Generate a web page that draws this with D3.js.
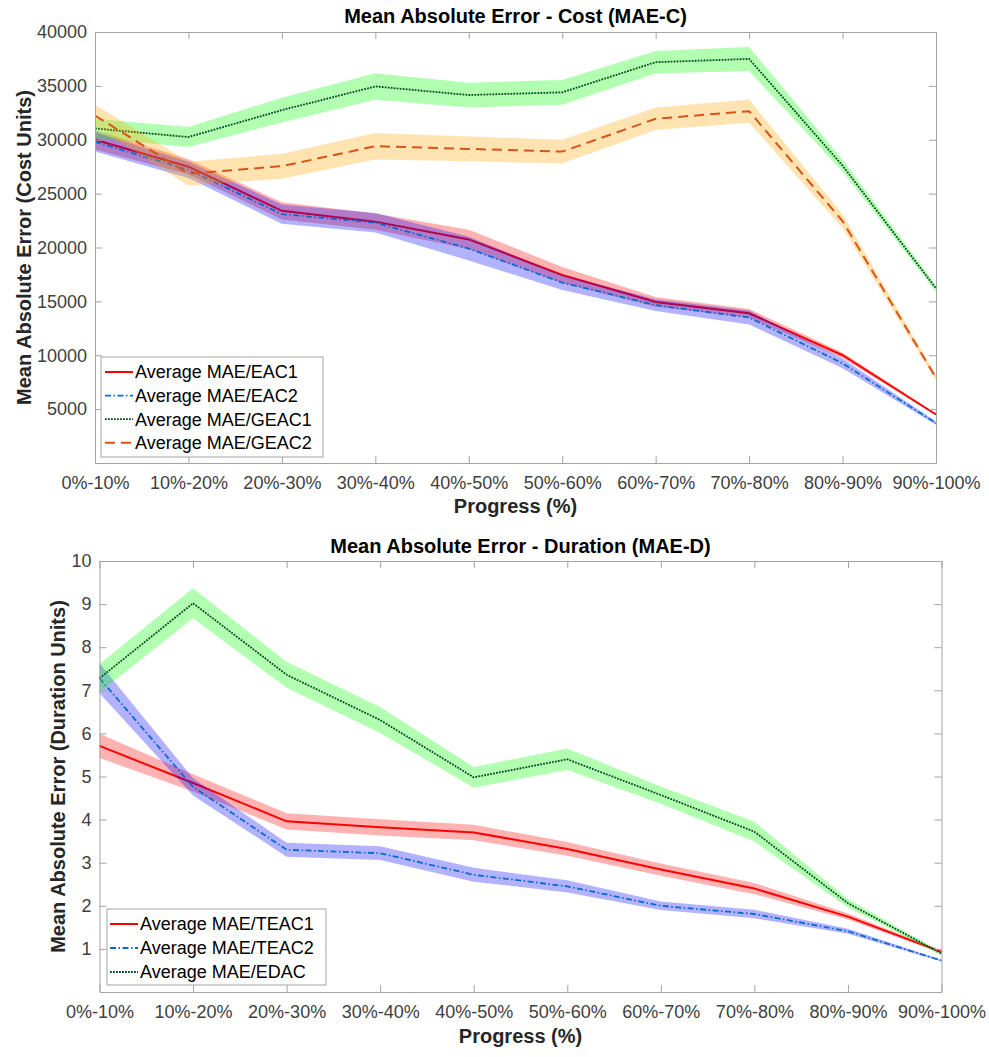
<!DOCTYPE html>
<html>
<head>
<meta charset="utf-8">
<script src="https://cdn.jsdelivr.net/npm/d3@7/dist/d3.min.js"></script>
<style>
  html, body { margin: 0; padding: 0; background: #ffffff; }
  svg { display: block; font-family: "Liberation Sans", Arial, Helvetica, sans-serif; }
</style>
</head>
<body>
<svg id="chart" width="989" height="1057"></svg>
<script>
// Progress buckets shared by both panels
const categories = ["0%-10%", "10%-20%", "20%-30%", "30%-40%", "40%-50%",
                    "50%-60%", "60%-70%", "70%-80%", "80%-90%", "90%-100%"];

// Cost panel: mean absolute error per bucket and the half-width of its shaded band
const eac1Mean   = [30000, 27500, 23400, 22400, 20750, 17450, 14950, 13900, 10000, 4500];
const eac1Spread = [900, 700, 800, 750, 900, 750, 450, 400, 250, 100];
const eac2Mean   = [29800, 27200, 23100, 22300, 19900, 16750, 14650, 13500, 9250, 3700];
const eac2Spread = [900, 750, 900, 900, 1100, 700, 550, 650, 450, 150];
const geac1Mean   = [31050, 30250, 32750, 34950, 34150, 34400, 37200, 37500, 27600, 16200];
const geac1Spread = [900, 930, 1150, 1230, 1150, 1150, 1040, 1110, 550, 300];
const geac2Mean   = [32250, 26850, 27550, 29400, 29150, 28900, 31950, 32650, 22450, 7900];
const geac2Spread = [1000, 1110, 1160, 1230, 1150, 1110, 1050, 1080, 650, 300];
const costTicks = [5000, 10000, 15000, 20000, 25000, 30000, 35000, 40000];

// Duration panel
const teac1Mean   = [5.71, 4.85, 3.96, 3.82, 3.70, 3.32, 2.84, 2.40, 1.75, 0.93];
const teac1Spread = [0.28, 0.2, 0.19, 0.19, 0.18, 0.16, 0.14, 0.13, 0.07, 0.03];
const teac2Mean   = [7.28, 4.76, 3.30, 3.22, 2.72, 2.45, 2.00, 1.81, 1.41, 0.73];
const teac2Spread = [0.35, 0.2, 0.16, 0.16, 0.16, 0.14, 0.1, 0.1, 0.06, 0.02];
const edacMean   = [7.28, 9.02, 7.36, 6.31, 4.98, 5.40, 4.57, 3.72, 2.06, 0.89];
const edacSpread = [0.33, 0.35, 0.3, 0.3, 0.24, 0.25, 0.2, 0.23, 0.1, 0.03];
const durationTicks = [1, 2, 3, 4, 5, 6, 7, 8, 9, 10];

const AXIS_GREY = "#a3a3a3";
const TEXT_GREY = "#404040";

const svg = d3.select("#chart");

function drawPanel(cfg) {
  const x = d3.scalePoint().domain(categories).range([cfg.left, cfg.right]).padding(0);
  const y = d3.scaleLinear().domain(cfg.yDomain).range([cfg.bottom, cfg.top]);
  const g = svg.append("g");

  // shaded band + line for each series, in drawing order
  cfg.series.forEach(s => {
    const pts = categories.map((c, i) => ({ c, m: s.mean[i], e: s.spread[i] }));
    const area = d3.area()
      .x(d => x(d.c))
      .y0(d => y(d.m - d.e))
      .y1(d => y(d.m + d.e));
    g.append("path")
      .attr("d", area(pts))
      .attr("fill", s.band)
      .attr("fill-opacity", 0.3)
      .attr("stroke", "none");
    const line = d3.line().x(d => x(d.c)).y(d => y(d.m));
    g.append("path")
      .attr("d", line(pts))
      .attr("fill", "none")
      .attr("stroke", s.color)
      .attr("stroke-width", s.width)
      .attr("stroke-dasharray", s.dash || null);
  });

  // axes: ticks point inward on all four sides
  const styleAxis = sel => {
    sel.selectAll(".domain").attr("stroke", AXIS_GREY).attr("stroke-width", 1);
    sel.selectAll(".tick line").attr("stroke", AXIS_GREY);
    sel.selectAll(".tick text").attr("fill", TEXT_GREY)
      .style("font-size", "18px")
      .style("font-family", "'Liberation Sans', Arial, sans-serif");
  };

  g.append("g")
    .attr("transform", `translate(0,${cfg.bottom})`)
    .call(d3.axisBottom(x).tickSize(-7).tickSizeOuter(0).tickPadding(13.5))
    .call(styleAxis);
  g.append("g")
    .attr("transform", `translate(0,${cfg.top})`)
    .call(d3.axisTop(x).tickSize(-7).tickSizeOuter(0).tickFormat(""))
    .call(styleAxis);
  g.append("g")
    .attr("transform", `translate(${cfg.left},0)`)
    .call(d3.axisLeft(y).tickValues(cfg.ticks).tickFormat(d3.format("d"))
      .tickSize(-7).tickSizeOuter(0).tickPadding(8))
    .call(styleAxis);
  g.append("g")
    .attr("transform", `translate(${cfg.right},0)`)
    .call(d3.axisRight(y).tickValues(cfg.ticks).tickSize(-7).tickSizeOuter(0).tickFormat(""))
    .call(styleAxis);

  // titles
  g.append("text")
    .attr("x", (cfg.left + cfg.right) / 2)
    .attr("y", cfg.titleY)
    .attr("text-anchor", "middle")
    .attr("font-weight", "bold")
    .attr("font-size", 20)
    .attr("fill", "#000")
    .text(cfg.title);
  g.append("text")
    .attr("x", (cfg.left + cfg.right) / 2)
    .attr("y", cfg.xLabelY)
    .attr("text-anchor", "middle")
    .attr("font-weight", "bold")
    .attr("font-size", 20)
    .attr("fill", "#262626")
    .text("Progress (%)");
  g.append("text")
    .attr("transform", `translate(${cfg.yLabelX},${(cfg.top + cfg.bottom) / 2}) rotate(-90)`)
    .attr("text-anchor", "middle")
    .attr("font-weight", "bold")
    .attr("font-size", 20)
    .attr("fill", "#262626")
    .text(cfg.yLabel);

  // legend
  const lg = cfg.legend;
  g.append("rect")
    .attr("x", lg.x).attr("y", lg.y)
    .attr("width", lg.w).attr("height", lg.h)
    .attr("fill", "#ffffff")
    .attr("stroke", AXIS_GREY)
    .attr("stroke-width", 1);
  cfg.series.forEach((s, i) => {
    const cy = lg.firstRow + i * lg.rowGap;
    g.append("line")
      .attr("x1", lg.sampleX0).attr("x2", lg.sampleX1)
      .attr("y1", cy).attr("y2", cy)
      .attr("stroke", s.color)
      .attr("stroke-width", s.width)
      .attr("stroke-dasharray", s.dash || null);
    g.append("text")
      .attr("x", lg.textX)
      .attr("y", cy)
      .attr("dy", "0.36em")
      .attr("font-size", 18)
      .attr("fill", "#000")
      .text(s.name);
  });
}

drawPanel({
  left: 95, right: 936, top: 32, bottom: 463,
  yDomain: [0, 40000], ticks: costTicks,
  title: "Mean Absolute Error - Cost (MAE-C)", titleY: 23,
  xLabelY: 513, yLabelX: 31,
  yLabel: "Mean Absolute Error (Cost Units)",
  series: [
    { name: "Average MAE/EAC1", mean: eac1Mean, spread: eac1Spread, color: "#ff0000", band: "#ff0000", width: 2 },
    { name: "Average MAE/EAC2", mean: eac2Mean, spread: eac2Spread, color: "#0a6ad0", band: "#0000ff", width: 1.8, dash: "6 2.5 1.5 2.5" },
    { name: "Average MAE/GEAC1", mean: geac1Mean, spread: geac1Spread, color: "#074a22", band: "#00ff00", width: 1.8, dash: "1.8 1.2" },
    { name: "Average MAE/GEAC2", mean: geac2Mean, spread: geac2Spread, color: "#d95319", band: "#ffa500", width: 2, dash: "10 6" }
  ],
  legend: { x: 101, y: 357, w: 222, h: 100, firstRow: 372, rowGap: 23.6,
            sampleX0: 105, sampleX1: 133, textX: 135 }
});

drawPanel({
  left: 99.5, right: 941.5, top: 561, bottom: 992,
  yDomain: [0, 10], ticks: durationTicks,
  title: "Mean Absolute Error - Duration (MAE-D)", titleY: 553,
  xLabelY: 1043, yLabelX: 65,
  yLabel: "Mean Absolute Error (Duration Units)",
  series: [
    { name: "Average MAE/TEAC1", mean: teac1Mean, spread: teac1Spread, color: "#ff0000", band: "#ff0000", width: 2 },
    { name: "Average MAE/TEAC2", mean: teac2Mean, spread: teac2Spread, color: "#0a6ad0", band: "#0000ff", width: 1.8, dash: "6 2.5 1.5 2.5" },
    { name: "Average MAE/EDAC", mean: edacMean, spread: edacSpread, color: "#074a22", band: "#00ff00", width: 1.8, dash: "1.8 1.2" }
  ],
  legend: { x: 107, y: 909, w: 219, h: 76, firstRow: 924, rowGap: 24,
            sampleX0: 110, sampleX1: 138, textX: 140 }
});
</script>
</body>
</html>
